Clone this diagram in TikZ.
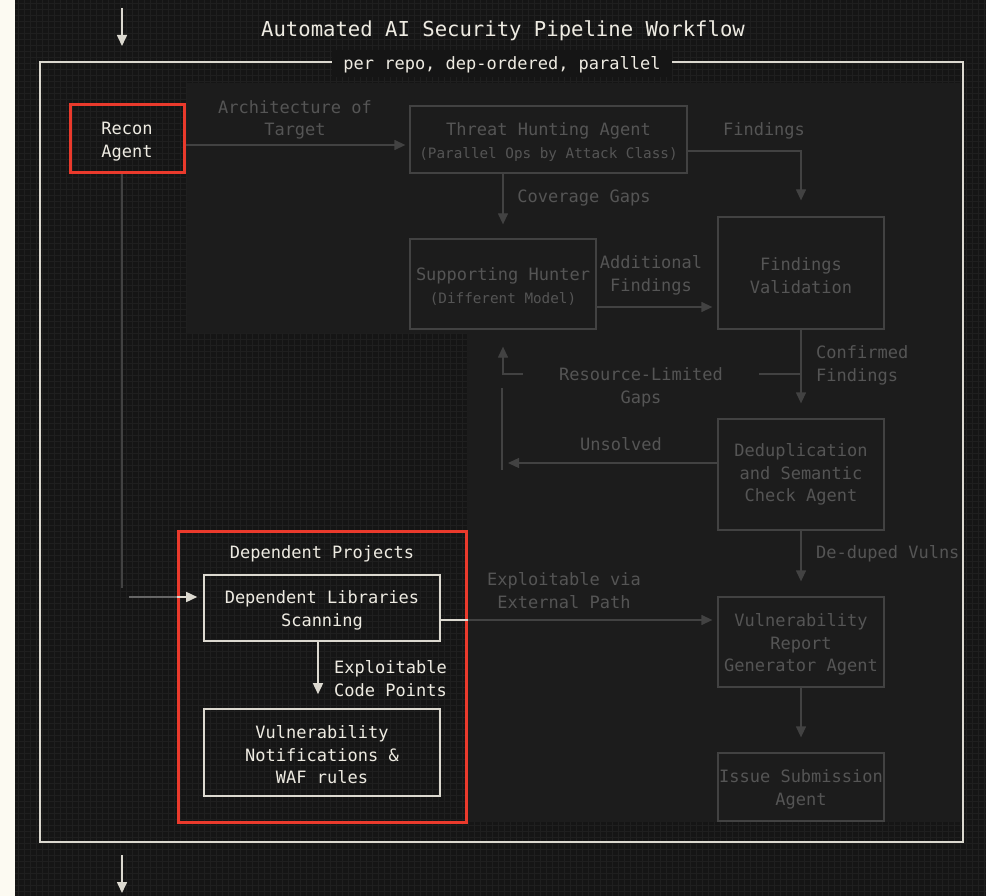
\documentclass[tikz,border=0pt]{standalone}
\usepackage{fontspec}
\setmainfont{DejaVu Sans Mono}
\usetikzlibrary{arrows.meta,positioning}
\definecolor{pagebg}{HTML}{151515}
\definecolor{gridln}{HTML}{1F1F1F}
\definecolor{dimbg}{HTML}{1C1C1C}
\definecolor{dimln}{HTML}{424242}
\definecolor{midln}{HTML}{666666}
\definecolor{dimtx}{HTML}{555555}
\definecolor{hiln}{HTML}{DCD9D0}
\definecolor{hitx}{HTML}{EEEBE2}
\definecolor{redhl}{HTML}{EA3A2C}
\definecolor{stripbg}{HTML}{FCFAF2}
\newcommand{\lnup}{\rule{0pt}{18pt}}
\begin{document}
\begin{tikzpicture}[x=1pt, y=-1pt]
    \tikzset{
        txt/.style={font=\fontsize{17}{22.5}\selectfont, align=center, inner sep=0pt,
            execute at begin node={\rule{0pt}{16.5pt}}},
        dimbox/.style={txt, draw=dimln, line width=1.3pt, text=dimtx},
        hibox/.style={txt, draw=hiln, line width=1.6pt, text=hitx},
        redbox/.style={txt, draw=redhl, line width=3pt, text=hitx},
        dimlbl/.style={txt, text=dimtx},
        hilbl/.style={txt, text=hitx},
        dimarr/.style={draw=dimln, line width=1.3pt, -{Triangle[length=11pt,width=10pt]}},
        hiarr/.style={draw=hiln, line width=1.6pt, -{Triangle[length=11pt,width=10pt]}},
        stage/.style={dimbox, minimum width=166pt}
    }
    \useasboundingbox (0,0) rectangle (986,896);
    \fill[pagebg] (0,0) rectangle (986,896);
    \fill[stripbg] (0,0) rectangle (15,896);
    \foreach \gx in {18,24,...,984} \draw[gridln, line width=0.8pt] (\gx,0) -- (\gx,896);
    \foreach \gy in {3,9,...,894} \draw[gridln, line width=0.8pt] (15,\gy) -- (986,\gy);
    \fill[dimbg] (187,83) -- (962,83) -- (962,822) -- (467,822) -- (467,333) -- (187,333) -- cycle;
    \draw[hiln, line width=2pt] (40,62) rectangle (963,842);

    \node[hilbl, font=\fontsize{20.6}{24}\selectfont] (title) at (503,30) {Automated AI Security Pipeline Workflow};
    \node[hilbl, fill=pagebg, inner xsep=11pt, inner ysep=3pt] (runlbl) at (502,63.5) {per repo, dep-ordered, parallel};

    \node[redbox, minimum width=114pt, minimum height=68pt] (recon) at (127,139) {\lnup Recon\\Agent};
    \node[dimbox, minimum width=277pt, minimum height=67pt] (threat) at (548.5,139.5)
        {\lnup Threat Hunting Agent\\{\fontsize{14.3}{22.5}\selectfont(Parallel Ops by Attack Class)}};
    \node[dimbox, minimum width=186pt, minimum height=90pt] (support) at (503,284)
        {\lnup Supporting Hunter\\{\fontsize{14.3}{22.5}\selectfont(Different Model)}};
    \node[stage, minimum height=112pt] (findval) at (801,273) {\lnup Findings\\Validation};
    \node[stage, minimum height=111pt] (dedup) at (801,474.5) {Deduplication\\and Semantic\\Check Agent};
    \node[stage, minimum height=90pt] (vulnrep) at (801,642) {\lnup Vulnerability\\Report\\Generator Agent};
    \node[stage, minimum height=68pt] (issue) at (801,787) {\lnup Issue Submission\\Agent};

    \node[redbox, minimum width=288pt, minimum height=291pt] (deppro) at (322,676.5) {};
    \node[hilbl] (depprolbl) at (322,552) {Dependent Projects};
    \node[hibox, minimum width=236pt, minimum height=66pt] (deplib) at (322,608) {\lnup Dependent Libraries\\Scanning};
    \node[hibox, minimum width=236pt, minimum height=87pt] (vulnnot) at (322,752.5) {\lnup Vulnerability\\Notifications \&\\WAF rules};

    \coordinate (in1) at (122,8);
    \coordinate (in2) at (122,46);
    \coordinate (out1) at (122,855);
    \coordinate (out2) at (122,893);
    \draw[hiarr] (in1) -- (in2);
    \draw[hiarr] (out1) -- (out2);

    \draw[dimarr, shorten >=4pt] ([yshift=-6pt]recon.east) -- ([yshift=-5.5pt]threat.west);
    \draw[dimarr, shorten >=16pt] ([yshift=-11.5pt]threat.east) -| (findval.north);
    \draw[dimarr, shorten >=14pt] (threat.south -| support.north) -- (support.north);
    \draw[dimarr, shorten >=5pt] ([yshift=-23pt]support.east) -- ([yshift=-34pt]findval.west);
    \draw[dimarr, shorten >=15pt] (findval.south) -- coordinate[pos=0.5] (rlfork) (dedup.north);
    \draw[dimarr, shorten >=17pt] (rlfork) -| (support.south);
    \coordinate (unsolvedtip) at (508,463);
    \coordinate (looptop) at (502,388);
    \coordinate (loopbot) at (502,470);
    \draw[dimarr] (dedup.west |- unsolvedtip) -- (unsolvedtip);
    \draw[dimln, line width=1.3pt] (loopbot) -- (looptop);
    \draw[dimarr, shorten >=15pt] (dedup.south) -- (vulnrep.north);
    \draw[dimarr, shorten >=15pt] (vulnrep.south) -- (issue.north);

    \coordinate (extpath) at ([yshift=-12pt]deplib.east);
    \draw[dimarr, shorten >=5pt] (extpath) -- (vulnrep.west |- extpath);
    \draw[hiln, line width=1.6pt] (extpath) -- (extpath -| deppro.east);
    \coordinate (reconout) at ([xshift=-5pt]recon.south);
    \coordinate (bend1) at (122,588);
    \coordinate (bend2) at (129,597);
    \coordinate (depin) at ([yshift=11pt]deplib.west);
    \draw[dimln, line width=1.3pt] (reconout) -- (bend1);
    \draw[hiarr, shorten >=6pt] (bend2) -- (depin);
    \draw[midln, line width=1.3pt] (bend2) -- (depin -| deppro.west);
    \draw[hiarr, shorten >=14pt] ([xshift=-4pt]deplib.south) -- ([xshift=-4pt]vulnnot.north);

    \node[dimlbl] (archlbl) at (295,117.5) {\lnup Architecture of\\Target};
    \node[dimlbl] (findlbl) at (764,129) {Findings};
    \node[dimlbl] (covlbl) at (584,196) {Coverage Gaps};
    \node[dimlbl] (addlbl) at (651,273) {\lnup Additional\\Findings};
    \node[dimlbl, align=left, anchor=west] (conflbl) at (816,363) {\lnup Confirmed\\Findings};
    \node[dimlbl, fill=dimbg, inner xsep=36pt, inner ysep=2pt] (rllbl) at (641,385) {\lnup Resource-Limited\\Gaps};
    \node[dimlbl] (unslbl) at (621,442) {Unsolved};
    \node[dimlbl, align=left, anchor=west] (deduplbl) at (816,552) {De-duped Vulns};
    \node[dimlbl] (extlbl) at (564,588) {\lnup Exploitable via\\External Path};
    \node[hilbl, align=left, anchor=west] (codelbl) at (334,676) {\lnup Exploitable\\Code Points};
\end{tikzpicture}
\end{document}
